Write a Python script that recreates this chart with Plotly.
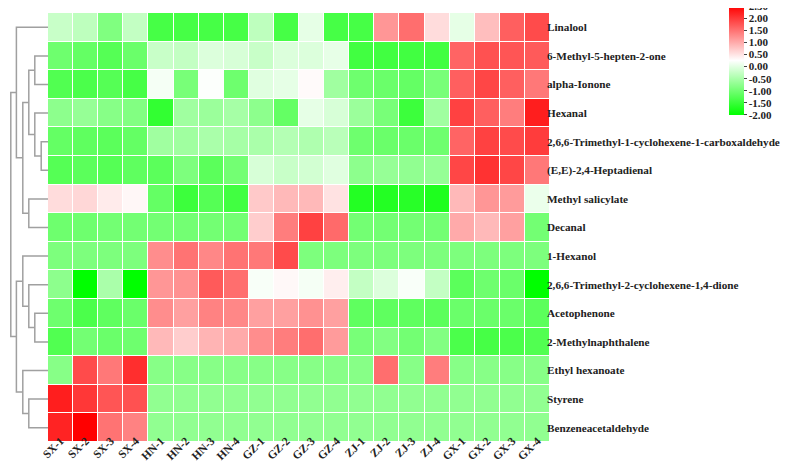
import plotly.graph_objects as go

samples = ["SX-1", "SX-2", "SX-3", "SX-4", "HN-1", "HN-2", "HN-3", "HN-4",
           "GZ-1", "GZ-2", "GZ-3", "GZ-4", "ZJ-1", "ZJ-2", "ZJ-3", "ZJ-4",
           "GX-1", "GX-2", "GX-3", "GX-4"]

compounds = ["Linalool", "6-Methyl-5-hepten-2-one", "alpha-Ionone", "Hexanal",
             "2,6,6-Trimethyl-1-cyclohexene-1-carboxaldehyde", "(E,E)-2,4-Heptadienal",
             "Methyl salicylate", "Decanal", "1-Hexanol",
             "2,6,6-Trimethyl-2-cyclohexene-1,4-dione", "Acetophenone",
             "2-Methylnaphthalene", "Ethyl hexanoate", "Styrene", "Benzeneacetaldehyde"]

linalool = [-0.24, -0.32, -0.87, -0.28, -1.38, -1.38, -1.38, -1.38, -0.32, -1.38, 0.03, -1.38,
            -1.38, 1.18, 1.53, 0.56, 0.03, 0.82, 1.66, 1.84]
methylheptenone = [-1.03, -1.12, -1.25, -1.07, -0.24, -0.28, -0.06, -0.10, -0.24, -0.06, -0.06, 0.04,
                   -1.43, -1.43, -1.43, -1.43, 1.62, 1.79, 1.75, 1.71]
alpha_ionone = [-1.29, -1.34, -1.25, -1.38, 0.16, -0.94, 0.22, -1.03, -0.02, 0.03, 0.29, -0.59,
                -1.03, -1.07, -1.12, -0.94, 1.66, 1.88, 1.66, 1.44]
hexanal = [-0.76, -0.68, -0.81, -0.85, -1.56, -0.59, -0.63, -0.54, -0.76, -1.12, 0.03, -0.10,
           -0.63, -0.94, -1.47, -0.59, 1.93, 1.66, 1.40, 2.24]
tmch_carboxaldehyde = [-1.12, -1.16, -1.20, -1.12, -0.59, -0.59, -0.50, -0.54, -0.50, -0.41, -0.46, -0.37,
                       -1.03, -1.07, -1.07, -1.03, 1.62, 1.93, 1.84, 1.97]
heptadienal = [-1.25, -1.20, -1.25, -1.16, -1.20, -0.90, -1.20, -0.99, -0.10, -0.24, -0.15, -0.02,
               -0.76, -0.68, -0.72, -0.68, 1.88, 2.06, 1.88, 1.44]
methyl_salicylate = [0.56, 0.60, 0.43, 0.32, -1.12, -1.47, -1.25, -1.43, 0.73, 0.87, 0.87, 0.51,
                     -1.69, -1.69, -1.65, -1.74, 0.87, 1.18, 1.13, 0.07]
decanal = [-1.03, -1.03, -0.99, -0.99, -0.99, -0.99, -0.99, -0.99, 0.69, 1.40, 1.93, 1.57,
           -0.99, -0.99, -0.99, -0.99, 1.00, 0.87, 1.09, -0.99]
hexanol = [-0.90, -0.90, -0.90, -0.90, 1.26, 1.49, 1.31, 1.49, 1.44, 1.84, -0.90, -0.90,
           -0.90, -0.90, -0.90, -0.90, -0.90, -0.90, -0.90, -0.90]
tmch_dione = [-0.76, -2.00, -0.50, -2.00, 1.18, 1.22, 1.71, 1.53, 0.19, 0.31, 0.16, 0.40,
              -0.28, -0.06, 0.20, -0.28, -1.20, -1.03, -1.07, -2.00]
acetophenone = [-1.03, -1.34, -1.16, -1.07, 1.26, 1.09, 1.35, 1.31, 1.09, 1.09, 1.22, 1.09,
                -1.16, -1.16, -1.16, -1.20, -1.07, -1.07, -1.07, -1.20]
methylnaphthalene = [-1.29, -0.99, -1.07, -1.03, 0.87, 0.69, 0.91, 1.00, 1.26, 1.40, 1.53, 1.13,
                     -0.94, -0.85, -0.99, -0.85, -1.34, -1.38, -1.34, -1.29]
ethyl_hexanoate = [-0.81, 1.84, 1.44, 2.10, -0.81, -0.81, -0.81, -0.81, -0.81, -0.81, -0.81, -0.81,
                   -0.81, 1.53, -0.81, 1.40, -0.81, -0.81, -0.81, -0.81]
styrene = [2.24, 2.02, 1.75, 1.79, -0.72, -0.72, -0.72, -0.72, -0.72, -0.72, -0.72, -0.72,
           -0.72, -0.72, -0.72, -0.72, -0.72, -0.72, -0.72, -0.72]
benzeneacetaldehyde = [2.19, 2.50, 1.49, 1.35, -0.72, -0.72, -0.72, -0.72, -0.72, -0.72, -0.72, -0.72,
                       -0.72, -0.72, -0.72, -0.72, -0.72, -0.72, -0.72, -0.72]

z = [linalool, methylheptenone, alpha_ionone, hexanal, tmch_carboxaldehyde, heptadienal,
     methyl_salicylate, decanal, hexanol, tmch_dione, acetophenone, methylnaphthalene,
     ethyl_hexanoate, styrene, benzeneacetaldehyde]

# row dendrogram linkage: (child_a, child_b, height); leaves 0..14, new nodes 15..
linkage = [(4, 5, 0.17), (1, 2, 0.33), (3, 15, 0.33), (16, 17, 0.48), (6, 7, 0.48),
           (18, 19, 0.63), (0, 20, 0.79), (10, 11, 0.33), (9, 22, 0.48), (8, 23, 0.63),
           (13, 14, 0.48), (12, 25, 0.63), (24, 26, 0.79), (21, 27, 0.93)]

cbar_ticks = [2.5, 2.0, 1.5, 1.0, 0.5, 0.0, -0.5, -1.0, -1.5, -2.0]

n = len(compounds)
pos = {i: (float(i), 0.0) for i in range(n)}
dx, dy = [], []
for k, (a, b, h) in enumerate(linkage):
    ya, ha = pos[a]
    yb, hb = pos[b]
    dx += [ha, h, h, hb, None]
    dy += [ya, ya, yb, yb, None]
    pos[n + k] = ((ya + yb) / 2, h)

W, H = 790, 464
font_fam = "Liberation Serif"
eps = 0.002

fig = go.Figure()
fig.add_trace(go.Heatmap(
    z=z, x=list(range(len(samples))), y=list(range(n)),
    zmin=-2 - eps, zmax=2.5 + eps,
    colorscale=[[0, "rgb(0,255,0)"], [0.5, "rgb(255,255,255)"], [1, "rgb(255,0,0)"]],
    xgap=1, ygap=1,
    colorbar=dict(
        x=721 / W, xanchor="left", y=1 + 8 / H, yanchor="top",
        len=121, lenmode="pixels", thickness=15, thicknessmode="pixels",
        outlinewidth=0, tickvals=cbar_ticks, ticktext=[f"{v:.2f}" for v in cbar_ticks],
        ticks="outside", ticklen=3, tickcolor="#444", tickwidth=1,
        ticklabeloverflow="allow",
        tickfont=dict(family=font_fam, size=11, color="#222", weight="bold"),
        xpad=0, ypad=6,
    ),
))
fig.add_trace(go.Scatter(
    x=dx, y=dy, mode="lines", xaxis="x2", yaxis="y",
    line=dict(color="#a0a0a0", width=1.5), hoverinfo="skip", showlegend=False,
))

fig.update_layout(
    width=W, height=H,
    margin=dict(l=0, r=0, t=0, b=0, autoexpand=False),
    paper_bgcolor="white", plot_bgcolor="white",
    showlegend=False,
    xaxis=dict(
        domain=[40 / W, 542 / W], range=[-0.5, len(samples) - 0.5],
        tickvals=list(range(len(samples))), ticktext=samples,
        tickangle=-45, ticks="", showgrid=False, zeroline=False, showline=False,
        tickfont=dict(family=font_fam, size=11.5, color="#222", weight="bold"),
        automargin=False, anchor="free", position=(H - 423) / H,
    ),
    yaxis=dict(
        domain=[1 - 434 / H, 1 - 5 / H], range=[n - 0.5, -0.5],
        tickvals=list(range(n)), ticktext=compounds, side="right",
        ticks="", showgrid=False, zeroline=False, showline=False,
        ticklabelstandoff=-4,
        tickfont=dict(family=font_fam, size=11.2, color="#222", weight="bold"),
        automargin=False, anchor="x",
    ),
    xaxis2=dict(
        domain=[0, 40 / W], range=[1.0, 0.0], visible=False,
        showgrid=False, zeroline=False, anchor="y",
    ),
)

fig.write_html("out.html")
